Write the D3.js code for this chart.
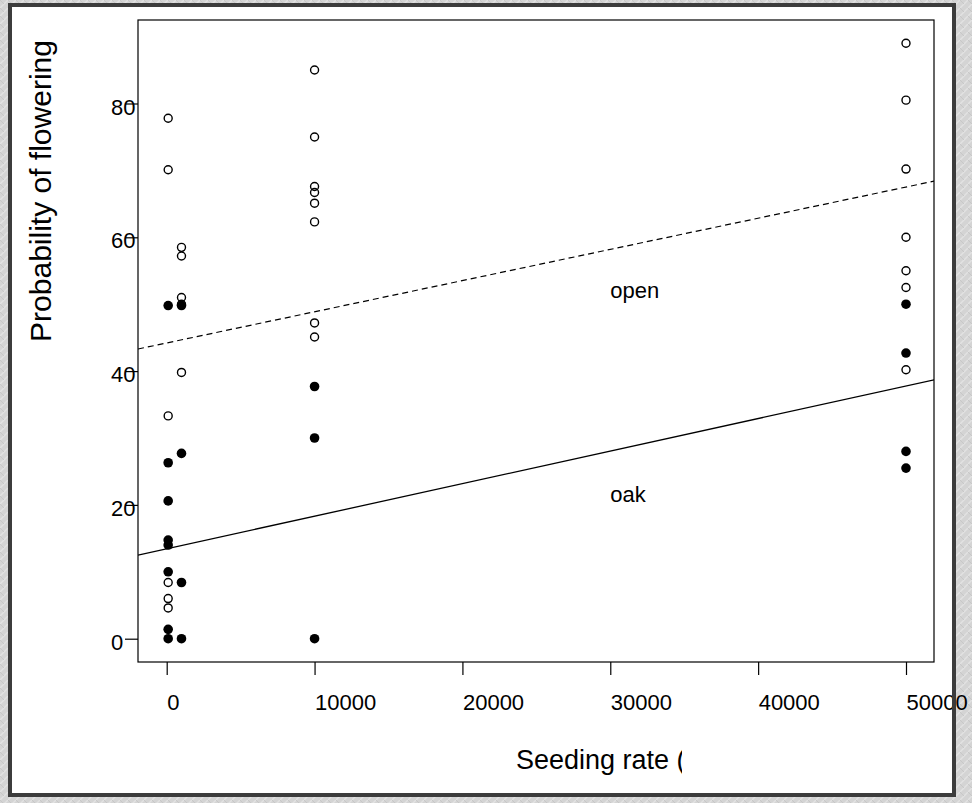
<!DOCTYPE html>
<html>
<head>
<meta charset="utf-8">
<script src="https://cdn.jsdelivr.net/npm/d3@7"></script>
<style>
html,body{margin:0;padding:0;background:#d6d6d6;}
svg{display:block;}
</style>
</head>
<body>
<svg id="chart" width="972" height="803"></svg>
<script>
// ---- data ----
const xTicks = [0, 10000, 20000, 30000, 40000, 50000];
const yTicks = [0, 20, 40, 60, 80];

// open habitat (open circles)
const openX = [100,100,100,100,100,100, 1000,1000,1000,1000,1000,
               10000,10000,10000,10000,10000,10000,10000,10000,
               50000,50000,50000,50000,50000,50000,50000];
const openY = [77.8,70.1,33.3,8.4,6.0,4.6, 58.5,57.2,51.0,50.0,39.8,
               85.0,75.0,67.6,66.7,65.1,62.3,47.2,45.1,
               89.0,80.5,70.2,60.0,55.0,52.5,40.2];

// oak habitat (filled circles)
const oakX = [100,100,100,100,100,100,100,100, 1000,1000,1000,1000,
              10000,10000,10000, 50000,50000,50000,50000];
const oakY = [49.8,26.3,20.6,14.75,14.0,10.0,1.4,0, 49.8,27.7,8.4,0,
              37.7,30.0,0, 50.0,42.7,28.0,25.5];

// fitted lines (end points)
const openLineX = [-1940, 51900];
const openLineY = [43.3, 68.4];
const oakLineX = [-1940, 51900];
const oakLineY = [12.5, 38.7];

const labels = [{text:"open", x:30000, y:51.0}, {text:"oak", x:30000, y:20.4}];

// ---- drawing ----
const svg = d3.select("#chart");
const FONT = "'Liberation Sans', Arial, Helvetica, sans-serif";

// textured background
const defs = svg.append("defs");
const pat = defs.append("pattern").attr("id","bgpat").attr("width",8).attr("height",8)
  .attr("patternUnits","userSpaceOnUse");
pat.append("rect").attr("width",8).attr("height",8).attr("fill","#d4d4d4");
pat.append("path").attr("d","M0 8 L8 0").attr("stroke","#e2e2e2").attr("stroke-width",1.5);
pat.append("path").attr("d","M0 0 L4 4").attr("stroke","#c8c8c8").attr("stroke-width",1);
svg.append("rect").attr("width",972).attr("height",803).attr("fill","url(#bgpat)");

// white panel
svg.append("rect").attr("x",10).attr("y",5).attr("width",944).attr("height",790)
  .attr("fill","#fff");

const box = {l:138, r:934, t:20, b:662};
const x = d3.scaleLinear().domain([0, 50000]).range([166.7, 906]);
const y = d3.scaleLinear().domain([0, 80]).range([638.7, 103.5]);

defs.append("clipPath").attr("id","plotclip").append("rect")
  .attr("x",box.l).attr("y",box.t).attr("width",box.r-box.l).attr("height",box.b-box.t);

// axes
const yAxis = svg.append("g").attr("transform",`translate(${box.l},0)`)
  .call(d3.axisLeft(y).tickValues(yTicks).tickSize(13).tickFormat(d3.format("d")));
yAxis.select(".domain").remove();
yAxis.selectAll(".tick line").attr("stroke","#000").attr("stroke-width",1.2);
yAxis.selectAll(".tick text").attr("text-anchor","start").attr("x",-27).attr("dy",null).attr("y",10.5)
  .attr("font-family",FONT).attr("font-size",22).attr("fill","#000");

const xAxis = svg.append("g").attr("transform",`translate(0,${box.b})`)
  .call(d3.axisBottom(x).tickValues(xTicks).tickSize(13).tickFormat(d3.format("d")));
xAxis.select(".domain").remove();
xAxis.selectAll(".tick line").attr("stroke","#000").attr("stroke-width",1.2);
xAxis.selectAll(".tick text").attr("text-anchor","start").attr("x",0).attr("dy",null).attr("y",48)
  .attr("font-family",FONT).attr("font-size",22).attr("fill","#000");

// plot box
svg.append("rect").attr("x",box.l).attr("y",box.t).attr("width",box.r-box.l).attr("height",box.b-box.t)
  .attr("fill","none").attr("stroke","#000").attr("stroke-width",1.2);

const plot = svg.append("g").attr("clip-path","url(#plotclip)");
const line = d3.line().x(d=>x(d[0])).y(d=>y(d[1]));
plot.append("path").datum(d3.zip(openLineX, openLineY)).attr("d",line)
  .attr("fill","none").attr("stroke","#000").attr("stroke-width",1.2).attr("stroke-dasharray","6,4");
plot.append("path").datum(d3.zip(oakLineX, oakLineY)).attr("d",line)
  .attr("fill","none").attr("stroke","#000").attr("stroke-width",1.3);

// points
plot.selectAll("circle.open").data(d3.zip(openX, openY)).join("circle").attr("class","open")
  .attr("cx",d=>x(d[0])).attr("cy",d=>y(d[1])).attr("r",4)
  .attr("fill","none").attr("stroke","#000").attr("stroke-width",1.4);
plot.selectAll("circle.oak").data(d3.zip(oakX, oakY)).join("circle").attr("class","oak")
  .attr("cx",d=>x(d[0])).attr("cy",d=>y(d[1])).attr("r",4.8)
  .attr("fill","#000");

// in-plot labels
svg.selectAll("text.lab").data(labels).join("text").attr("class","lab")
  .attr("x",d=>x(d.x)).attr("y",d=>y(d.y)).text(d=>d.text)
  .attr("font-family",FONT).attr("font-size",22).attr("fill","#000");

// axis titles
defs.append("clipPath").attr("id","xlabclip").append("rect")
  .attr("x",500).attr("y",730).attr("width",182).attr("height",60);
svg.append("text").attr("x",516).attr("y",769).text("Seeding rate (")
  .attr("clip-path","url(#xlabclip)")
  .attr("font-family",FONT).attr("font-size",27).attr("fill","#000");
svg.append("text").attr("transform","translate(51,191) rotate(-90)").attr("text-anchor","middle")
  .text("Probability of flowering")
  .attr("font-family",FONT).attr("font-size",30).attr("fill","#000");

// dark frame drawn on top
svg.append("rect").attr("x",10).attr("y",5).attr("width",944).attr("height",790)
  .attr("fill","none").attr("stroke","#3c3c3c").attr("stroke-width",4);
</script>
</body>
</html>
